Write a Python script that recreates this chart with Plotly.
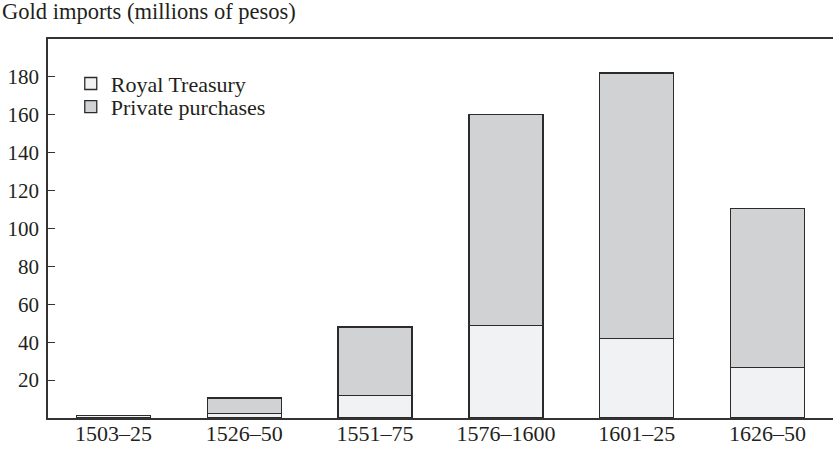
import plotly.graph_objects as go

periods = ["1503–25", "1526–50", "1551–75", "1576–1600", "1601–25", "1626–50"]
royal_treasury = [1.2, 2.5, 12, 49, 42, 26.5]
private_purchases = [0.3, 8, 36, 111, 140, 84]
y_ticks = [20, 40, 60, 80, 100, 120, 140, 160, 180]

FONT = "Liberation Serif"
INK = "#231f20"
FS = 22

fig = go.Figure()
fig.add_trace(go.Bar(
    x=periods, y=royal_treasury, name="Royal Treasury", legend="legend",
    marker=dict(color="#f1f2f4", line=dict(color="#2b2b2b", width=1.3)),
))
fig.add_trace(go.Bar(
    x=periods, y=private_purchases, name="Private purchases", legend="legend2",
    marker=dict(color="#d1d2d4", line=dict(color="#2b2b2b", width=1.3)),
))

legend_common = dict(
    x=0.029, xanchor="left", yanchor="middle",
    bgcolor="rgba(0,0,0,0)", font=dict(family=FONT, size=FS, color=INK),
    itemwidth=30,
)

fig.update_layout(
    width=834, height=449,
    barmode="stack", bargap=0.435,
    plot_bgcolor="white", paper_bgcolor="white",
    margin=dict(l=48, r=1, t=39, b=31),
    font=dict(family=FONT, size=FS, color=INK),
    showlegend=True,
    legend=dict(y=0.882, **legend_common),
    legend2=dict(y=0.821, **legend_common),
    annotations=[dict(
        text="Gold imports (millions of pesos)",
        xref="paper", yref="paper", x=-48/785, y=1 + 28/379,
        xanchor="left", yanchor="middle", showarrow=False,
        font=dict(family=FONT, size=FS + 0.5, color=INK),
    )],
)
fig.update_xaxes(
    automargin=False,
    showline=True, linecolor="#333333", linewidth=1.5, mirror=True,
    ticks="", showgrid=False, ticklabelstandoff=-5,
    tickfont=dict(family=FONT, size=FS, color=INK),
)
fig.update_yaxes(
    automargin=False,
    range=[0, 200], tickvals=y_ticks, showgrid=False, zeroline=False,
    showline=True, linecolor="#333333", linewidth=1.5,
    ticks="inside", ticklen=7, tickcolor="#333333", tickwidth=1.2,
    ticklabelstandoff=3,
    tickfont=dict(family=FONT, size=21, color=INK),
)

fig.write_html(
    "out.html",
    config={"displayModeBar": False},
    post_script="document.body.style.margin='0';",
)
